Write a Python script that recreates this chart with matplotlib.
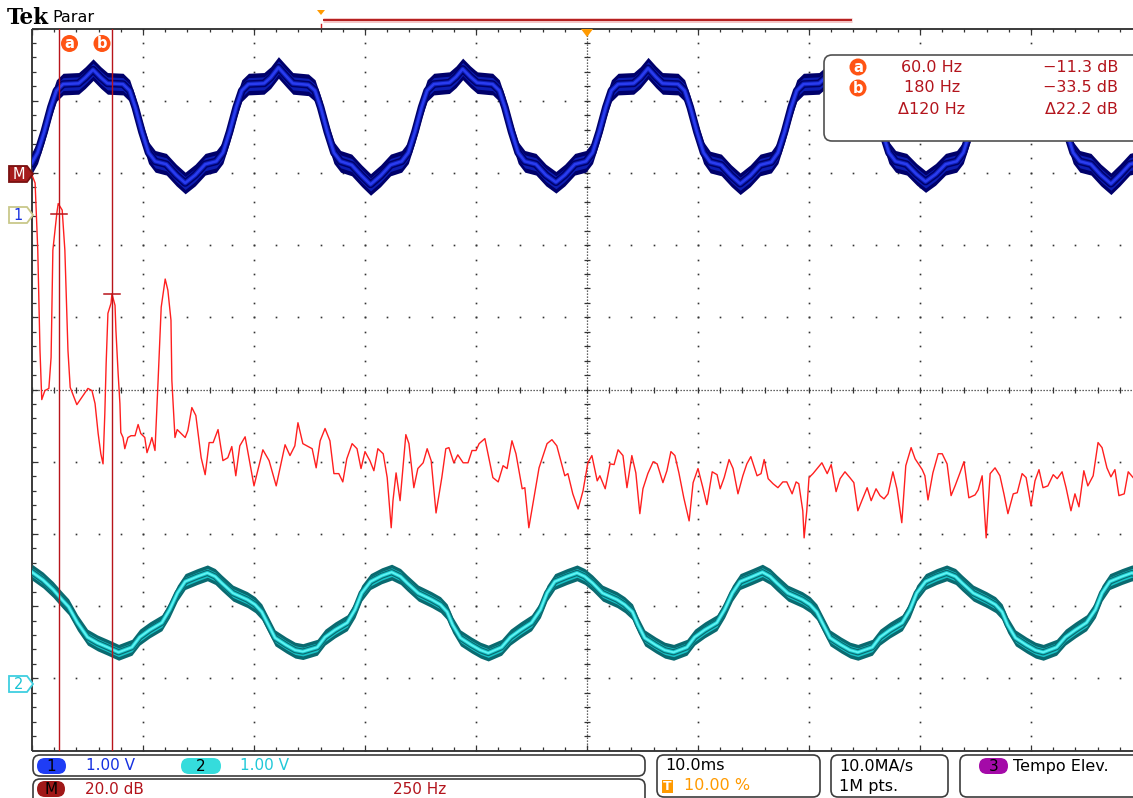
import numpy as np
import matplotlib
matplotlib.use("Agg")
import matplotlib.pyplot as plt
from matplotlib.patches import FancyBboxPatch, Polygon, Circle, Rectangle
from matplotlib.collections import LineCollection

# ---------------- acquisition settings ----------------
time_per_div_ms = 10.0
ch1_volts_per_div = 1.0
ch2_volts_per_div = 1.0
fft_db_per_div = 20.0
fft_hz_per_div = 250.0

# ---------------- FFT (math) trace ----------------
fft_freq_hz = [
    0, 7, 13, 18, 22, 29, 38, 43, 47, 56,
    59, 68, 74, 81, 86, 101, 115, 126, 135, 142,
    149, 155, 160, 164, 167, 171, 178, 180, 187, 189,
    194, 198, 200, 205, 209, 216, 223, 232, 239, 245,
    254, 259, 266, 270, 277, 284, 291, 300, 306, 313,
    315, 320, 322, 327, 336, 345, 351, 360, 369, 381,
    390, 399, 408, 419, 430, 441, 450, 459, 468, 480,
    500, 520, 534, 550, 570, 581, 592, 599, 610, 631,
    640, 649, 660, 671, 680, 691, 700, 709, 721, 732,
    741, 750, 761, 770, 779, 791, 800, 809, 813, 820,
    829, 842, 849, 860, 869, 881, 890, 899, 910, 923,
    932, 939, 950, 959, 971, 982, 991, 1000, 1007, 1020,
    1038, 1050, 1061, 1070, 1081, 1090, 1104, 1110, 1119, 1133,
    1142, 1160, 1171, 1182, 1200, 1207, 1218, 1230, 1241, 1252,
    1261, 1273, 1279, 1291, 1302, 1311, 1320, 1331, 1340, 1351,
    1360, 1369, 1376, 1387, 1399, 1408, 1421, 1430, 1439, 1448,
    1457, 1468, 1480, 1489, 1500, 1511, 1520, 1532, 1543, 1550,
    1559, 1570, 1579, 1590, 1601, 1610, 1619, 1633, 1642, 1649,
    1658, 1669, 1680, 1691, 1700, 1712, 1721, 1727, 1736, 1739,
    1745, 1750, 1759, 1779, 1791, 1800, 1811, 1820, 1831, 1842,
    1851, 1860, 1869, 1881, 1890, 1901, 1910, 1919, 1928, 1939,
    1948, 1959, 1968, 1980, 1989, 2005, 2011, 2018, 2029, 2041,
    2050, 2061, 2070, 2079, 2090, 2099, 2110, 2124, 2131, 2140,
    2149, 2158, 2169, 2180, 2189, 2198, 2210, 2219, 2230, 2239,
    2250, 2259, 2268, 2277, 2288, 2300, 2309, 2320, 2329, 2340,
    2349, 2358, 2369, 2378, 2390, 2401, 2410, 2421, 2430, 2439,
    2448, 2460, 2469, 2480,
]
fft_level_db = [
    -0.6, -2.8, -21.4, -49.2, -62.8, -60.3, -59.7, -51.1, -21.4, -11.1,
    -8.5, -10.3, -21.4, -49.2, -59.4, -64.2, -61.7, -59.7, -60.3, -63.9,
    -72.2, -77.8, -80.6, -66.7, -52.8, -38.9, -36.1, -33.5, -36.7, -43.6,
    -55.6, -63.9, -71.9, -73.3, -76.4, -73.3, -72.8, -72.8, -69.7, -72.2,
    -73.3, -77.5, -75.0, -73.3, -76.9, -57.5, -37.2, -29.4, -32.5, -40.8,
    -57.5, -68.6, -73.3, -71.1, -72.2, -73.3, -71.4, -65.0, -67.2, -78.9,
    -83.6, -74.7, -74.7, -71.1, -79.7, -78.9, -75.8, -83.9, -75.6, -73.1,
    -86.7, -76.7, -79.7, -86.7, -75.3, -78.3, -75.6, -69.2, -75.0, -76.4,
    -81.7, -74.2, -70.8, -74.2, -83.3, -83.3, -85.6, -79.2, -75.0, -76.4,
    -81.9, -77.2, -79.7, -82.5, -76.4, -77.8, -84.4, -98.3, -90.8, -83.1,
    -90.8, -72.5, -75.0, -87.2, -81.9, -80.3, -76.4, -79.7, -94.2, -84.4,
    -76.4, -76.1, -80.3, -78.1, -80.3, -80.3, -76.9, -76.9, -75.0, -73.6,
    -84.4, -85.6, -81.1, -81.9, -74.2, -77.8, -87.5, -87.2, -98.3, -88.1,
    -81.7, -75.0, -73.9, -75.6, -83.9, -83.3, -88.9, -93.1, -88.1, -80.3,
    -78.3, -85.3, -83.9, -87.5, -80.6, -80.8, -76.7, -78.3, -87.2, -78.3,
    -83.1, -94.4, -87.5, -83.3, -80.0, -80.6, -85.8, -82.5, -77.2, -78.3,
    -83.1, -90.0, -96.4, -85.8, -81.9, -87.2, -91.9, -82.8, -83.6, -87.5,
    -84.4, -79.4, -81.9, -88.9, -83.9, -80.6, -78.6, -83.9, -83.3, -79.4,
    -84.7, -86.1, -87.2, -85.6, -85.6, -88.9, -85.6, -86.1, -93.6, -101.1,
    -93.6, -84.4, -83.3, -80.3, -83.3, -80.8, -88.3, -84.7, -82.8, -84.4,
    -85.8, -93.6, -90.8, -87.2, -90.8, -87.5, -89.4, -90.3, -88.9, -82.8,
    -87.5, -96.9, -81.1, -76.1, -79.2, -82.2, -83.9, -90.6, -83.1, -77.8,
    -77.8, -80.6, -89.4, -86.7, -83.1, -80.0, -90.0, -89.2, -87.8, -83.9,
    -101.1, -83.3, -81.7, -83.9, -88.9, -94.4, -88.9, -88.6, -83.3, -84.4,
    -92.2, -85.3, -82.2, -87.2, -86.7, -83.6, -84.7, -82.8, -87.2, -93.6,
    -88.9, -92.5, -82.5, -86.7, -83.9, -74.7, -76.1, -81.7, -84.2, -82.2,
    -89.4, -88.9, -82.8, -84.4,
]

# ---------------- channel 1 (blue) ----------------
ch1_time_ms = [
    0.0, 0.5, 1.1, 1.7, 2.2, 2.8, 4.2, 4.8,
    5.5, 6.2, 6.8, 8.2, 8.8, 9.3, 9.9, 10.5, 11.1, 12.1, 13.0, 13.8, 14.7, 15.6, 16.6, 17.2, 17.8, 18.4, 18.9, 19.5, 20.9, 21.5,
    22.2, 22.9, 23.5, 24.9, 25.5, 26.0, 26.6, 27.2, 27.8, 28.8, 29.7, 30.5, 31.4, 32.3, 33.3, 33.9, 34.5, 35.1, 35.6, 36.2, 37.6, 38.2,
    38.8, 39.5, 40.1, 41.5, 42.1, 42.6, 43.2, 43.8, 44.4, 45.4, 46.3, 47.2, 48.0, 48.9, 49.9, 50.5, 51.1, 51.7, 52.2, 52.8, 54.2, 54.8,
    55.5, 56.2, 56.8, 58.2, 58.8, 59.3, 59.9, 60.5, 61.1, 62.1, 63.0, 63.8, 64.7, 65.6, 66.6, 67.2, 67.8, 68.4, 68.9, 69.5, 70.9, 71.5,
    72.2, 72.9, 73.5, 74.9, 75.5, 76.0, 76.6, 77.2, 77.8, 78.8, 79.7, 80.5, 81.4, 82.3, 83.3, 83.9, 84.5, 85.1, 85.6, 86.2, 87.6, 88.2,
    88.8, 89.5, 90.1, 91.5, 92.1, 92.6, 93.2, 93.8, 94.4, 95.4, 96.3, 97.2, 98.0, 98.9, 99.9, 100.5,
]
ch1_volts = [
    0.72, 0.86, 1.15, 1.49, 1.72, 1.81, 1.82, 1.90,
    2.01, 1.90, 1.82, 1.81, 1.72, 1.49, 1.15, 0.86, 0.74, 0.70, 0.55, 0.44, 0.55, 0.70, 0.74, 0.86, 1.15, 1.49, 1.72, 1.81, 1.82, 1.90,
    2.04, 1.92, 1.82, 1.80, 1.72, 1.49, 1.15, 0.86, 0.74, 0.69, 0.54, 0.42, 0.54, 0.69, 0.74, 0.86, 1.15, 1.49, 1.72, 1.81, 1.83, 1.91,
    2.02, 1.91, 1.83, 1.81, 1.72, 1.49, 1.15, 0.86, 0.74, 0.70, 0.55, 0.45, 0.55, 0.70, 0.74, 0.86, 1.15, 1.49, 1.72, 1.81, 1.82, 1.90,
    2.03, 1.91, 1.82, 1.81, 1.72, 1.49, 1.15, 0.86, 0.73, 0.69, 0.54, 0.43, 0.54, 0.69, 0.73, 0.86, 1.15, 1.49, 1.72, 1.81, 1.82, 1.90,
    2.00, 1.90, 1.82, 1.81, 1.72, 1.49, 1.15, 0.86, 0.74, 0.70, 0.56, 0.46, 0.56, 0.70, 0.74, 0.86, 1.15, 1.49, 1.72, 1.81, 1.82, 1.90,
    2.02, 1.90, 1.82, 1.81, 1.72, 1.49, 1.15, 0.86, 0.74, 0.70, 0.55, 0.43, 0.55, 0.70, 0.74, 0.86,
]

# ---------------- channel 2 (cyan) ----------------
ch2_time_ms = [
    0.0, 1.0, 1.9, 2.7, 3.3, 4.1, 5.0, 5.9, 6.8,
    7.8, 9.0, 9.7, 10.6, 11.7, 12.4, 13.1, 13.8, 14.9, 15.8, 16.5, 17.1, 18.1, 19.4, 20.1, 20.7, 21.3, 21.9, 22.9, 23.7,
    24.4, 25.7, 26.4, 27.3, 28.4, 29.1, 29.7, 30.5, 31.5, 32.4, 33.2, 33.8, 34.8, 36.0, 36.8, 37.4, 37.9, 38.6, 39.6, 40.4,
    41.1, 42.3, 43.1, 44.0, 45.0, 45.8, 46.4, 47.1, 48.2, 49.1, 49.8, 50.5, 51.4, 52.7, 53.4, 54.1, 54.6, 55.2, 56.2, 57.0,
    57.8, 59.0, 59.7, 60.6, 61.7, 62.4, 63.1, 63.8, 64.9, 65.8, 66.5, 67.1, 68.1, 69.4, 70.1, 70.7, 71.3, 71.9, 72.9, 73.7,
    74.4, 75.7, 76.4, 77.3, 78.4, 79.1, 79.7, 80.5, 81.5, 82.4, 83.2, 83.8, 84.8, 86.0, 86.8, 87.4, 87.9, 88.6, 89.6, 90.4,
    91.1, 92.3, 93.1, 94.0, 95.0, 95.8, 96.4, 97.1, 98.2, 99.1, 99.8, 100.5,
]
ch2_volts = [
    1.55, 1.44, 1.31, 1.17, 1.07, 0.85, 0.65, 0.57, 0.51,
    0.44, 0.51, 0.65, 0.75, 0.85, 1.03, 1.26, 1.42, 1.49, 1.54, 1.49, 1.40, 1.26, 1.17, 1.10, 1.00, 0.82, 0.64, 0.54, 0.47,
    0.45, 0.51, 0.65, 0.75, 0.85, 1.03, 1.26, 1.42, 1.50, 1.55, 1.49, 1.40, 1.26, 1.17, 1.10, 1.00, 0.82, 0.64, 0.54, 0.47,
    0.43, 0.51, 0.65, 0.75, 0.85, 1.03, 1.26, 1.42, 1.49, 1.54, 1.49, 1.40, 1.26, 1.17, 1.10, 1.00, 0.82, 0.64, 0.54, 0.47,
    0.44, 0.51, 0.65, 0.75, 0.85, 1.03, 1.26, 1.42, 1.49, 1.55, 1.49, 1.40, 1.26, 1.17, 1.10, 1.00, 0.82, 0.64, 0.54, 0.47,
    0.44, 0.51, 0.65, 0.75, 0.85, 1.03, 1.26, 1.42, 1.49, 1.54, 1.49, 1.40, 1.26, 1.17, 1.10, 1.00, 0.82, 0.64, 0.54, 0.47,
    0.44, 0.51, 0.65, 0.75, 0.85, 1.03, 1.26, 1.42, 1.49, 1.54, 1.49, 1.40,
]

# ---------------- cursors ----------------
cursor_names = ["a", "b"]
cursor_freq_hz = [60.0, 180.0]
cursor_level_db = [-11.3, -33.5]

# ---------------- status readouts ----------------
ch1_scale_label = "1.00 V"
ch2_scale_label = "1.00 V"
math_scale_label = "20.0 dB"
math_span_label = "250 Hz"
timebase_label = "10.0ms"
trigger_pos_label = "10.00 %"
sample_rate_label = "10.0MA/s"
record_len_label = "1M pts."
ch3_label = "Tempo Elev."

# ======================================================================
W, H = 1133, 798
fig = plt.figure(figsize=(W / 100, H / 100), dpi=100)
fig.patch.set_facecolor("white")
FONT = "DejaVu Sans"

GX0, GY0 = 32.0, 28.5          # graticule top-left (pixels)
DIVX, DIVY = 111.0, 72.2       # pixels per division
NDIV = 10


def px_rect(x0, y0, x1, y1):
    return [x0 / W, 1 - y1 / H, (x1 - x0) / W, (y1 - y0) / H]


grat_rect = px_rect(GX0, GY0, GX0 + NDIV * DIVX, GY0 + NDIV * DIVY)

# ---------------- graticule ----------------
ax_g = fig.add_axes(grat_rect)
ax_g.set_xlim(0, NDIV)
ax_g.set_ylim(NDIV, 0)
ax_g.set_axis_off()
gcol = "#333333"

# border lines
for xs, ys in (([0, 0], [0, NDIV]), ([0, NDIV], [0, 0]), ([0, NDIV], [NDIV, NDIV])):
    ax_g.plot(xs, ys, color="#3a3a3a", lw=1.4, clip_on=False, solid_capstyle="butt")

# dotted major lines (dots at every minor step)
minor = np.round(np.arange(0, NDIV + 0.001, 0.2), 3)
dx, dy = [], []
for k in range(1, NDIV):
    if k == 5:
        continue
    dx += [k] * len(minor)
    dy += list(minor)
    dx += list(minor)
    dy += [k] * len(minor)
ax_g.plot(dx, dy, ls="none", marker="s", ms=1.2, mew=0, color=gcol)

# centre cross: dense dotted lines with minor ticks
ax_g.plot([5, 5], [0, NDIV], ls=(0, (1.0, 1.4)), lw=0.9, color=gcol)
ax_g.plot([0, NDIV], [5, 5], ls=(0, (1.0, 1.4)), lw=0.9, color=gcol)
segs = []
hx = 3.0 / DIVX
hy = 3.0 / DIVY
for m in minor:
    segs.append([(5 - hx, m), (5 + hx, m)])
    segs.append([(m, 5 - hy), (m, 5 + hy)])
# border ticks
for m in minor:
    lt = 6.0 if abs(m - round(m)) < 1e-6 else 3.5
    segs.append([(m, 0), (m, lt / DIVY)])
    segs.append([(m, NDIV), (m, NDIV - lt / DIVY)])
    segs.append([(0, m), (lt / DIVX, m)])
ax_g.add_collection(LineCollection(segs, colors=gcol, linewidths=0.9))


def overlay_axes(xlim, ylim):
    a = fig.add_axes(grat_rect)
    a.set_xlim(*xlim)
    a.set_ylim(*ylim)
    a.set_axis_off()
    a.patch.set_alpha(0)
    return a


# ---------------- FFT trace ----------------
fft_top_db = 2 * fft_db_per_div
ax_f = overlay_axes((0, NDIV * fft_hz_per_div), (fft_top_db - NDIV * fft_db_per_div, fft_top_db))
ax_f.plot(fft_freq_hz, fft_level_db, color="#ff1f1f", lw=1.0, solid_joinstyle="round")

# ---------------- channel traces (noisy bands) ----------------
ch1_top = 2.58 * ch1_volts_per_div
ax_1 = overlay_axes((0, NDIV * time_per_div_ms), (ch1_top - NDIV * ch1_volts_per_div, ch1_top))
t1 = np.array(ch1_time_ms)
v1 = np.array(ch1_volts)
ax_1.fill_between(t1, v1 - 0.15, v1 + 0.15, color="#00006a", lw=0)
ax_1.plot(t1, v1, color="#00006a", lw=5.5)
ax_1.fill_between(t1, v1 - 0.09, v1 + 0.09, color="#0d1eb4", lw=0)
ax_1.plot(t1, v1, color="#0d1eb4", lw=3.4)
ax_1.plot(t1, v1, color="#2a3cf0", lw=1.8)

ch2_top = 9.08 * ch2_volts_per_div
ax_2 = overlay_axes((0, NDIV * time_per_div_ms), (ch2_top - NDIV * ch2_volts_per_div, ch2_top))
t2 = np.array(ch2_time_ms)
v2 = np.array(ch2_volts)
ax_2.fill_between(t2, v2 - 0.11, v2 + 0.11, color="#0a6a70", lw=0)
ax_2.plot(t2, v2, color="#0a6a70", lw=4.5)
ax_2.fill_between(t2, v2 - 0.06, v2 + 0.06, color="#19c4c8", lw=0)
ax_2.plot(t2, v2, color="#19c4c8", lw=2.8)
ax_2.plot(t2, v2, color="#5ef4f4", lw=1.4)

# ---------------- cursors ----------------
ax_c = overlay_axes(ax_f.get_xlim(), ax_f.get_ylim())
half_w = 8.0 / DIVX * fft_hz_per_div
for f, d in zip(cursor_freq_hz, cursor_level_db):
    ax_c.axvline(f, color="#b8141a", lw=1.0)
    ax_c.plot([f - half_w, f + half_w], [d, d], color="#b8141a", lw=1.1)

# ---------------- annotation layer (pixel coordinates) ----------------
ov = fig.add_axes([0, 0, 1, 1])
ov.set_xlim(0, W)
ov.set_ylim(H, 0)
ov.set_axis_off()
ov.patch.set_alpha(0)

RED_TXT = "#b3141c"
ORANGE_BADGE = "#ff5414"


def badge(x, y, letter, r=8.5):
    ov.add_patch(Circle((x, y), r, fc=ORANGE_BADGE, ec="none", zorder=5))
    ov.text(x, y + 0.5, letter, ha="center", va="center", color="white",
            fontsize=10.5, fontweight="bold", family=FONT, zorder=6)


def pill(x0, y0, x1, y1, fc, ec="none", lw=0):
    h = y1 - y0
    ov.add_patch(FancyBboxPatch((x0, y0), x1 - x0, h,
                                boxstyle=f"round,pad=0,rounding_size={h / 2}",
                                fc=fc, ec=ec, lw=lw, zorder=5))


def rbox(x0, y0, x1, y1, r=7, ec="#3c3c3c", lw=1.2):
    ov.add_patch(FancyBboxPatch((x0, y0), x1 - x0, y1 - y0,
                                boxstyle=f"round,pad=0,rounding_size={r}",
                                fc="white", ec=ec, lw=lw, zorder=4))


def marker_tag(y, fc, ec, txt, tcolor, x0=9, x1=33, h=16):
    pts = [(x0, y - h / 2), (x1 - 6, y - h / 2), (x1, y), (x1 - 6, y + h / 2), (x0, y + h / 2)]
    ov.add_patch(Polygon(pts, closed=True, fc=fc, ec=ec, lw=1.3, zorder=5))
    ov.text((x0 + x1 - 5) / 2, y + 0.5, txt, ha="center", va="center", color=tcolor,
            fontsize=10.5, family=FONT, zorder=6)


# header
ov.text(7, 18.5, "Tek", ha="left", va="center", fontsize=15.5, fontweight="bold",
        family="DejaVu Serif", color="black")
ov.text(52, 18, "Parar", ha="left", va="center", fontsize=11.5, family=FONT, color="black")

# record view bar
ov.plot([323, 852], [20, 20], color="#f3c4c4", lw=3.5, solid_capstyle="butt")
ov.plot([323, 852], [20, 20], color="#b01010", lw=1.3, solid_capstyle="butt")
ov.add_patch(Polygon([(317, 10), (325, 10), (321, 15)], closed=True, fc="#ff9a00", ec="none"))
ov.plot([321, 321], [24, 27], color="#d02020", lw=1.0)

# trigger position marker
ov.add_patch(Polygon([(581, 29), (593, 29), (587, 37)], closed=True, fc="#ff9a00", ec="none", zorder=5))

# channel reference tags
marker_tag(174, "#a51c1c", "#7a1010", "M", "white")
marker_tag(215, "white", "#c9c88a", "1", "#1530e0")
marker_tag(684, "white", "#3fcfe0", "2", "#17c3d3")

# cursor badges on the graticule
badge(69.5, 43.5, cursor_names[0])
badge(102, 43.5, cursor_names[1])

# cursor readout box
rbox(824, 55, 1150, 141, r=8, ec="#505050")


def fmt_hz(v):
    return f"{v:.1f} Hz" if v < 100 else f"{v:.0f} Hz"


def fmt_db(v):
    return ("\u2212" if v < 0 else "") + f"{abs(v):.1f} dB"


rows_y = [67, 88, 109]
for i in range(2):
    badge(858, rows_y[i], cursor_names[i])
    ov.text(932, rows_y[i], fmt_hz(cursor_freq_hz[i]), ha="center", va="center",
            color=RED_TXT, fontsize=11.5, family=FONT, zorder=6)
    ov.text(1118, rows_y[i], fmt_db(cursor_level_db[i]), ha="right", va="center",
            color=RED_TXT, fontsize=11.5, family=FONT, zorder=6)
d_hz = cursor_freq_hz[1] - cursor_freq_hz[0]
d_db = cursor_level_db[0] - cursor_level_db[1]
ov.text(932, rows_y[2], f"\u0394{d_hz:.0f} Hz", ha="center", va="center",
        color=RED_TXT, fontsize=11.5, family=FONT, zorder=6)
ov.text(1118, rows_y[2], f"\u0394{d_db:.1f} dB", ha="right", va="center",
        color=RED_TXT, fontsize=11.5, family=FONT, zorder=6)

# ---------------- status bar ----------------
rbox(33, 755, 645, 776, r=7)
rbox(33, 779, 645, 805, r=7)
rbox(657, 755, 820, 797, r=7)
rbox(831, 755, 948, 797, r=7)
rbox(960, 755, 1150, 797, r=7)

pill(37, 758, 66, 774, "#1f3df5")
ov.text(51.5, 766.5, "1", ha="center", va="center", fontsize=11, family=FONT, color="black", zorder=6)
ov.text(86, 766, ch1_scale_label, ha="left", va="center", fontsize=11, family=FONT, color="#1530e0", zorder=6)
pill(181, 758, 221, 774, "#35dcdc")
ov.text(201, 766.5, "2", ha="center", va="center", fontsize=11, family=FONT, color="black", zorder=6)
ov.text(240, 766, ch2_scale_label, ha="left", va="center", fontsize=11, family=FONT, color="#20c8d8", zorder=6)

pill(37, 781, 65, 797, "#a01818")
ov.text(51, 789.5, "M", ha="center", va="center", fontsize=11, family=FONT, color="black", zorder=6)
ov.text(85, 789, math_scale_label, ha="left", va="center", fontsize=11, family=FONT, color=RED_TXT, zorder=6)
ov.text(393, 789, math_span_label, ha="left", va="center", fontsize=11, family=FONT, color=RED_TXT, zorder=6)

ov.text(665, 766, timebase_label, ha="left", va="center", fontsize=11.5, family=FONT, color="black", zorder=6)
ov.add_patch(Rectangle((662, 780), 11, 13, fc="#ff9a00", ec="none", zorder=5))
ov.text(667.5, 787, "T", ha="center", va="center", fontsize=9, fontweight="bold", family=FONT, color="white", zorder=6)
ov.text(684, 786, trigger_pos_label, ha="left", va="center", fontsize=11.5, family=FONT, color="#ff9a00", zorder=6)

ov.text(839, 766, sample_rate_label, ha="left", va="center", fontsize=11.5, family=FONT, color="black", zorder=6)
ov.text(839, 786, record_len_label, ha="left", va="center", fontsize=11.5, family=FONT, color="black", zorder=6)

pill(979, 758, 1008, 774, "#a40aa8")
ov.text(993.5, 766.5, "3", ha="center", va="center", fontsize=11, family=FONT, color="black", zorder=6)
ov.text(1013, 766, ch3_label, ha="left", va="center", fontsize=11.5, family=FONT, color="black", zorder=6)

fig.savefig("out.png", dpi=100, facecolor="white")
